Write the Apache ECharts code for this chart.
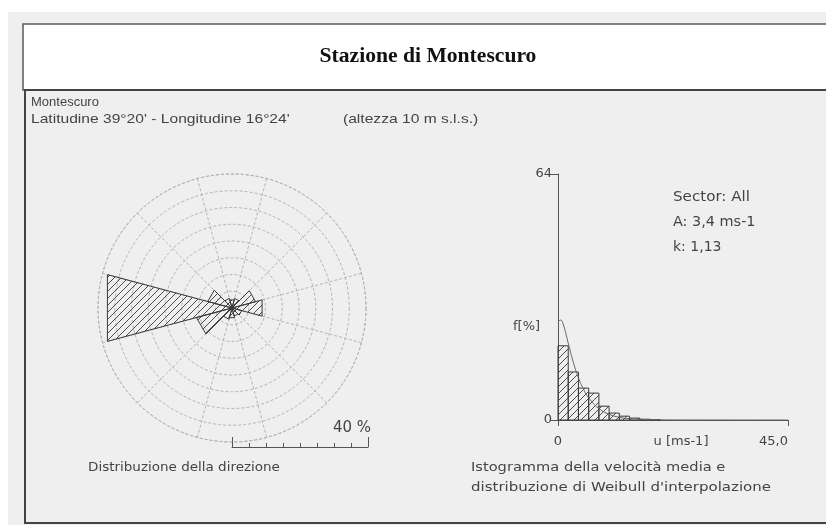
<!DOCTYPE html>
<html>
<head>
<meta charset="utf-8">
<script src="https://cdn.jsdelivr.net/npm/echarts@6/dist/echarts.min.js"></script>
<style>
html, body { margin: 0; padding: 0; background: #fff; }
#myecharts { width: 826px; height: 525px; }
</style>
</head>
<body>
<div id="myecharts"></div>
<script>
// rosa dei venti: 12 settori da 30 gradi (N, 30, 60, ... 330), valori in %
var sectorDeg = [0, 30, 60, 90, 120, 150, 180, 210, 240, 270, 300, 330];
var sectorPct = [2.5, 3, 7.3, 9.3, 3, 2.5, 3, 3.5, 11, 38.5, 7.5, 3];

// istogramma velocita (classi da 2 m/s), frequenza in %
var binStart = [0, 2, 4, 6, 8, 10, 12, 14, 16, 18];
var binFreq = [19.3, 12.5, 8.3, 7.0, 3.6, 1.8, 1.0, 0.5, 0.2, 0.1];

// curva di Weibull
var weibullU = [0, 0.5, 1, 2, 3, 4, 5, 6, 8, 10, 12, 14, 18, 25, 45];
var weibullF = [25.5, 26, 25, 20, 15, 11, 8, 5.8, 3, 1.5, 0.7, 0.35, 0.1, 0.02, 0];

var roseMax = 40;
var uMax = 45;
var fMax = 64;

function hatch() {
    var c = document.createElement('canvas');
    var s = 7;
    c.width = s; c.height = s;
    var g = c.getContext('2d');
    g.strokeStyle = '#3a3a3a';
    g.lineWidth = 0.9;
    g.beginPath();
    g.moveTo(0, s); g.lineTo(s, 0);
    g.moveTo(-1, 1); g.lineTo(1, -1);
    g.moveTo(s - 1, s + 1); g.lineTo(s + 1, s - 1);
    g.stroke();
    return { image: c, repeat: 'repeat' };
}
var hatchFill = hatch();

var hh = document.getElementById('myecharts');
var echart = echarts.init(hh);

var gridLine = { color: '#b4b4b4', type: [3, 2], width: 1 };
var sans = 'DejaVu Sans';
var txt = '#444';

function label(x, y, s, font, sx) {
    return { type: 'text', x: x, y: y, scaleX: sx || 1, style: { text: s, font: font, fill: txt } };
}

var option = {
    backgroundColor: '#ffffff',
    animation: false,
    graphic: [
        { type: 'rect', z: -10, shape: { x: 8, y: 12, width: 818, height: 513 }, style: { fill: '#efefef' } },
        { type: 'rect', z: -9, shape: { x: 23, y: 24, width: 820, height: 66 }, style: { fill: '#ffffff', stroke: '#5a5a5a', lineWidth: 1.5 } },
        { type: 'rect', z: -9, shape: { x: 25, y: 90, width: 820, height: 433 }, style: { fill: 'none', stroke: '#444', lineWidth: 2 } },
        {
            type: 'text', x: 428, y: 57, scaleX: 1.08,
            style: { text: 'Stazione di Montescuro', font: 'bold 20px Liberation Serif', fill: '#111',
                align: 'center', verticalAlign: 'middle' }
        },
        label(31, 96, 'Montescuro', '13px Liberation Sans'),
        label(31, 113, "Latitudine 39°20' - Longitudine 16°24'", '13px Liberation Sans', 1.2),
        label(343, 113, '(altezza 10 m s.l.s.)', '13px Liberation Sans', 1.2),
        label(88, 461, 'Distribuzione della direzione', '12.5px ' + sans, 1.08),
        label(333, 421, '40 %', '15px ' + sans),
        label(471, 461, 'Istogramma della velocità media e', '12.5px ' + sans, 1.17),
        label(471, 481, "distribuzione di Weibull d'interpolazione", '12.5px ' + sans, 1.2),
        label(673, 190, 'Sector: All', '14px ' + sans, 1.08),
        label(673, 215, 'A: 3,4 ms-1', '14px ' + sans, 1.03),
        label(673, 240, 'k: 1,13', '14px ' + sans),
        label(513, 320, 'f[%]', '13px ' + sans)
    ],
    polar: { center: [232, 308], radius: 134 },
    angleAxis: {
        type: 'value', min: 0, max: 360, interval: 30, startAngle: 105, clockwise: true,
        axisLine: { show: true, lineStyle: gridLine },
        axisTick: { show: false }, axisLabel: { show: false },
        splitLine: { show: true, lineStyle: gridLine }
    },
    radiusAxis: {
        type: 'value', min: 0, max: roseMax, interval: 5,
        axisLine: { show: false }, axisTick: { show: false }, axisLabel: { show: false },
        splitLine: { show: true, lineStyle: gridLine }
    },
    grid: [
        { left: 558, right: 38, top: 174, bottom: 105 },
        { left: 232, width: 136, top: 420, height: 27 }
    ],
    xAxis: [
        {
            gridIndex: 0, type: 'value', min: 0, max: uMax, interval: uMax,
            name: 'u [ms-1]', nameLocation: 'middle', nameGap: 15, nameMoveOverlap: false,
            nameTextStyle: { fontFamily: sans, fontSize: 13, color: txt, verticalAlign: 'top', padding: [0, 0, 0, 16] },
            axisLine: { lineStyle: { color: '#555', width: 1 } },
            axisTick: { show: true, length: 6, lineStyle: { color: '#555' } },
            axisLabel: { fontFamily: sans, fontSize: 13, color: txt, margin: 15,
                formatter: function (v) { return v === uMax ? '45,0' : '0'; },
                alignMaxLabel: 'right' },
            splitLine: { show: false }
        },
        {
            gridIndex: 1, type: 'value', position: 'bottom', min: 0, max: roseMax, interval: 5,
            axisLine: { lineStyle: { color: '#555', width: 1 } },
            axisTick: { show: true, inside: true, length: 4, lineStyle: { color: '#555' } },
            axisLabel: { show: false }, splitLine: { show: false }
        },
        {
            gridIndex: 1, type: 'value', position: 'bottom', min: 0, max: roseMax, interval: roseMax,
            axisLine: { show: false },
            axisTick: { show: true, inside: true, length: 10, lineStyle: { color: '#555' } },
            axisLabel: { show: false }, splitLine: { show: false }
        }
    ],
    yAxis: [
        {
            gridIndex: 0, type: 'value', min: 0, max: fMax, interval: fMax,
            axisLine: { show: true, lineStyle: { color: '#555', width: 1 } },
            axisTick: { show: true, length: 7, lineStyle: { color: '#555' } },
            axisLabel: { fontFamily: sans, fontSize: 13, color: txt, margin: 6 },
            splitLine: { show: false }
        },
        {
            gridIndex: 1, type: 'value', min: 0, max: 1, show: false
        }
    ],
    series: [
        {
            type: 'custom',
            coordinateSystem: 'polar',
            data: sectorPct.map(function (v, i) { return [v, sectorDeg[i]]; }),
            renderItem: function (params, api) {
                var r = api.value(0);
                var a = api.value(1); // settore da a-15 a a+15 gradi (startAngle 105)
                var c = api.coord([0, 0]);
                var p1 = api.coord([r, a]);
                var p2 = api.coord([r, a + 30]);
                return {
                    type: 'polygon',
                    shape: { points: [c, p1, p2] },
                    style: { fill: hatchFill, stroke: '#3a3a3a', lineWidth: 1 }
                };
            }
        },
        {
            type: 'custom',
            xAxisIndex: 0, yAxisIndex: 0,
            data: binFreq.map(function (v, i) { return [binStart[i], v]; }),
            renderItem: function (params, api) {
                var x0 = api.value(0);
                var p0 = api.coord([x0, api.value(1)]);
                var p1 = api.coord([x0 + 2, 0]);
                return {
                    type: 'rect',
                    shape: { x: p0[0], y: p0[1], width: p1[0] - p0[0], height: p1[1] - p0[1] },
                    style: { fill: hatchFill, stroke: '#3a3a3a', lineWidth: 1 }
                };
            }
        },
        {
            type: 'line',
            xAxisIndex: 0, yAxisIndex: 0,
            smooth: true, showSymbol: false,
            lineStyle: { color: '#666', width: 1 },
            data: weibullU.map(function (u, i) { return [u, weibullF[i]]; })
        }
    ]
};

echart.setOption(option);

window.addEventListener('resize', function () {
    if (echart) {
        echart.resize();
    }
});
</script>
</body>
</html>
